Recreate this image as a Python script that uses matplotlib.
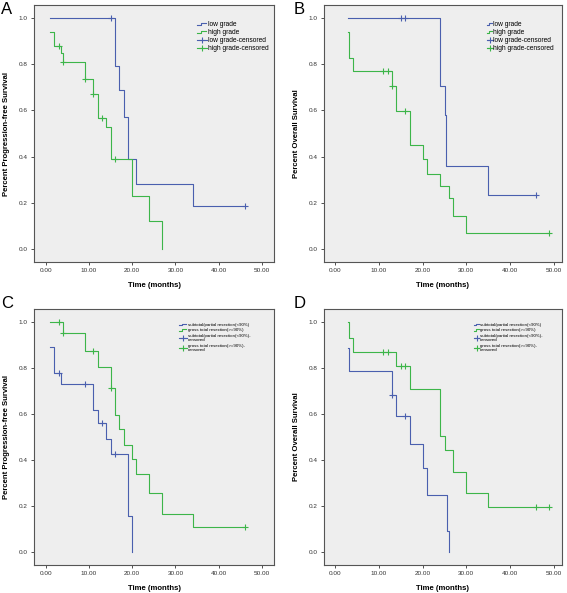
import numpy as np
import matplotlib
matplotlib.use('Agg')
import matplotlib.pyplot as plt
from matplotlib.lines import Line2D
from matplotlib.legend_handler import HandlerBase

plt.rcParams['font.family'] = ['Liberation Sans', 'DejaVu Sans']

# Kaplan-Meier curves: step start times and survival after each step
# Panel A - progression-free survival by grade
a_low_t = [1, 16, 17, 18, 19, 21, 34]
a_low_s = [1.0, 0.79, 0.69, 0.57, 0.39, 0.28, 0.187]
a_low_c = [15, 46]
a_high_t = [1, 2, 3.5, 4, 9, 11, 12, 14, 15, 20, 24, 27]
a_high_s = [0.94, 0.88, 0.85, 0.81, 0.735, 0.672, 0.566, 0.53, 0.39, 0.228, 0.12, 0.0]
a_high_c = [3, 4, 9, 11, 13, 16]

# Panel B - overall survival by grade
b_low_t = [3, 24, 25, 25.4, 35]
b_low_s = [1.0, 0.705, 0.58, 0.36, 0.236]
b_low_c = [15, 16, 46]
b_high_t = [3, 3.2, 4, 13, 14, 17, 20, 21, 24, 26, 27, 30]
b_high_s = [0.94, 0.826, 0.77, 0.705, 0.596, 0.45, 0.39, 0.325, 0.272, 0.223, 0.145, 0.068]
b_high_c = [11, 12, 13, 16, 49]

# Panel C - progression-free survival by extent of resection
c_sub_t = [1, 2, 3.5, 11, 12, 14, 15, 19, 20]
c_sub_s = [0.893, 0.778, 0.729, 0.618, 0.56, 0.493, 0.427, 0.156, 0.0]
c_sub_c = [3, 9, 13, 16]
c_gross_t = [1, 4, 9, 12, 15, 16, 17, 18, 20, 21, 24, 27, 34]
c_gross_s = [1.0, 0.953, 0.873, 0.806, 0.715, 0.594, 0.536, 0.465, 0.403, 0.338, 0.256, 0.165, 0.11]
c_gross_c = [3, 4, 11, 15, 46]

# Panel D - overall survival by extent of resection
d_sub_t = [3, 3.2, 13, 14, 17, 20, 21, 25.5, 26]
d_sub_s = [0.887, 0.786, 0.681, 0.59, 0.47, 0.364, 0.246, 0.091, 0.0]
d_sub_c = [13, 16]
d_gross_t = [3, 3.2, 4, 14, 17, 24, 25, 27, 30, 35]
d_gross_s = [1.0, 0.932, 0.868, 0.808, 0.708, 0.503, 0.445, 0.35, 0.256, 0.197]
d_gross_c = [11, 12, 15, 16, 46, 49]

grade_labels = ['low grade', 'high grade', 'low grade-censored', 'high grade-censored']
resect_labels = ['subtotal/partial resection(<90%)', 'gross total resection(>=90%)',
                 'subtotal/partial resection(<90%)-\ncensored', 'gross total resection(>=90%)-\ncensored']
ylabels = ['Percent Progression-free Survival', 'Percent Overall Survival',
           'Percent Progression-free Survival', 'Percent Overall Survival']
panel_letters = ['A', 'B', 'C', 'D']

blue = '#4a5fae'
green = '#3cb549'


class StepHandler(HandlerBase):
    # little step glyph like the SPSS legend
    def create_artists(self, legend, orig_handle, xdescent, ydescent, width, height, fontsize, trans):
        x0 = -xdescent
        xs = [x0, x0 + width * 0.4, x0 + width * 0.4, x0 + width * 0.9]
        ys = [height * 0.15, height * 0.15, height * 0.75, height * 0.75]
        ln = Line2D(xs, ys, color=orig_handle.get_color(), lw=0.8)
        ln.set_transform(trans)
        return [ln]


def km(ax, t, s, cens, color):
    t = np.asarray(t, float)
    s = np.asarray(s, float)
    end = max(t[-1], max(cens))
    xs = np.append(t, end)
    ys = np.append(s, s[-1])
    ax.step(xs, ys, where='post', color=color, lw=0.8)
    idx = np.searchsorted(t, cens, side='right') - 1
    ax.plot(cens, s[idx], ls='none', marker='+', ms=4.5, mew=0.8, color=color)


fig = plt.figure(figsize=(5.67, 5.93), dpi=100)
rects = [(34, 5, 274, 262), (324, 5, 562, 262), (34, 309, 274, 565), (324, 309, 562, 565)]
xlims = [(-2.7, 52.8), (-2.6, 51.9), (-2.7, 52.8), (-2.6, 51.9)]
letter_pos = [(1, 2), (294, 2), (1, 296), (294, 296)]
leg_x = [0.667, 0.672, 0.596, 0.622]
leg_hl = [1.5, 0.8, 1.8, 1.1]
curves = [
    (a_low_t, a_low_s, a_low_c, a_high_t, a_high_s, a_high_c),
    (b_low_t, b_low_s, b_low_c, b_high_t, b_high_s, b_high_c),
    (c_sub_t, c_sub_s, c_sub_c, c_gross_t, c_gross_s, c_gross_c),
    (d_sub_t, d_sub_s, d_sub_c, d_gross_t, d_gross_s, d_gross_c),
]

W, H = 567, 593
for i in range(4):
    l, t_, r, b = rects[i]
    ax = fig.add_axes([l / W, 1 - b / H, (r - l) / W, (b - t_) / H])
    ax.set_facecolor('#eeeeee')
    t1, s1, c1, t2, s2, c2 = curves[i]
    km(ax, t1, s1, c1, blue)
    km(ax, t2, s2, c2, green)
    ax.set_xlim(*xlims[i])
    ax.set_ylim(-0.056, 1.056)
    ax.set_xticks([0, 10, 20, 30, 40, 50])
    ax.set_xticklabels(['0.00', '10.00', '20.00', '30.00', '40.00', '50.00'])
    ax.set_yticks([0, 0.2, 0.4, 0.6, 0.8, 1.0])
    ax.set_yticklabels(['0.0', '0.2', '0.4', '0.6', '0.8', '1.0'])
    ax.tick_params(labelsize=4.6, length=2.5, width=0.6, colors='#333333', pad=2)
    for sp in ax.spines.values():
        sp.set_color('#555555')
        sp.set_linewidth(0.8)
    ax.set_xlabel('Time (months)', fontsize=5.6, fontweight='bold', labelpad=6)
    ax.set_ylabel(ylabels[i], fontsize=5.6, fontweight='bold', labelpad=6)

    handles = [Line2D([], [], color=blue), Line2D([], [], color=green),
               Line2D([], [], color=blue, marker='+', ms=5, mew=0.8, lw=0.8),
               Line2D([], [], color=green, marker='+', ms=5, mew=0.8, lw=0.8)]
    hmap = {handles[0]: StepHandler(), handles[1]: StepHandler()}
    if i < 2:
        ax.legend(handles, grade_labels, handler_map=hmap, loc='upper left',
                  bbox_to_anchor=(leg_x[i], 0.95), frameon=False, fontsize=4.8,
                  labelspacing=0.15, handlelength=leg_hl[i], handletextpad=0.1, borderpad=0)
    else:
        ax.legend(handles, resect_labels, handler_map=hmap, loc='upper left',
                  bbox_to_anchor=(leg_x[i], 0.955), frameon=False, fontsize=3.2,
                  labelspacing=0.3, handlelength=leg_hl[i], handletextpad=0.2, borderpad=0)

    lx, ly = letter_pos[i]
    fig.text(lx / W, 1 - ly / H, panel_letters[i], fontsize=12, va='top', ha='left')

fig.savefig('out.png', dpi=100)
